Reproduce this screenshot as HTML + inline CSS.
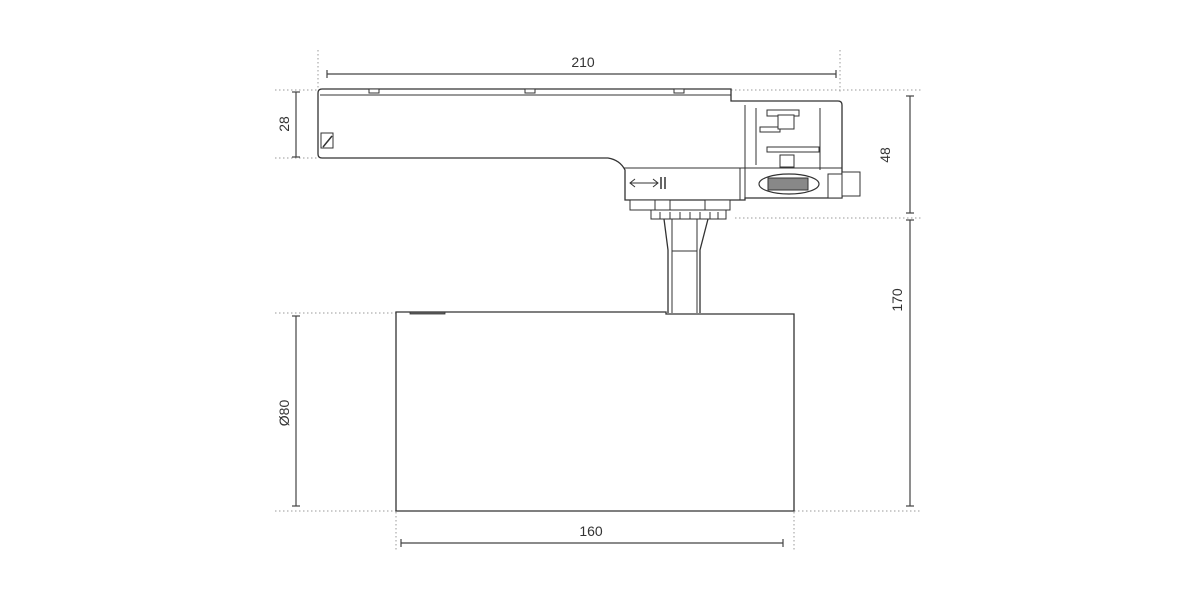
<!DOCTYPE html>
<html><head><meta charset="utf-8"><style>
html,body{margin:0;padding:0;background:#fff;}
svg{display:block;}
text{font-family:"Liberation Sans",sans-serif;font-size:14px;fill:#333;}
</style></head><body>
<svg width="1200" height="600" viewBox="0 0 1200 600" xmlns="http://www.w3.org/2000/svg">
<g stroke="#999" stroke-width="1" stroke-dasharray="1.5,2.5" fill="none">
<line x1="318" y1="50" x2="318" y2="90"/>
<line x1="840" y1="50" x2="840" y2="92"/>
<line x1="275" y1="90" x2="318" y2="90"/>
<line x1="275" y1="158" x2="318" y2="158"/>
<line x1="731" y1="90" x2="922" y2="90"/>
<line x1="735" y1="218" x2="922" y2="218"/>
<line x1="275" y1="313" x2="396" y2="313"/>
<line x1="275" y1="511" x2="396" y2="511"/>
<line x1="794" y1="511" x2="922" y2="511"/>
<line x1="396" y1="512" x2="396" y2="550"/>
<line x1="794" y1="512" x2="794" y2="550"/>
</g>
<g stroke="#444" stroke-width="1.2" fill="none">
<line x1="327" y1="74" x2="836" y2="74"/><line x1="327" y1="70" x2="327" y2="78"/><line x1="836" y1="70" x2="836" y2="78"/>
<line x1="296" y1="92" x2="296" y2="157"/><line x1="292" y1="92" x2="300" y2="92"/><line x1="292" y1="157" x2="300" y2="157"/>
<line x1="910" y1="96" x2="910" y2="213"/><line x1="906" y1="96" x2="914" y2="96"/><line x1="906" y1="213" x2="914" y2="213"/>
<line x1="910" y1="220" x2="910" y2="506"/><line x1="906" y1="220" x2="914" y2="220"/><line x1="906" y1="506" x2="914" y2="506"/>
<line x1="296" y1="316" x2="296" y2="506"/><line x1="292" y1="316" x2="300" y2="316"/><line x1="292" y1="506" x2="300" y2="506"/>
<line x1="401" y1="543" x2="783" y2="543"/><line x1="401" y1="539" x2="401" y2="547"/><line x1="783" y1="539" x2="783" y2="547"/>
</g>
<text x="583" y="67" text-anchor="middle">210</text>
<text x="591" y="536" text-anchor="middle">160</text>
<text transform="translate(289,124) rotate(-90)" text-anchor="middle">28</text>
<text transform="translate(890,155) rotate(-90)" text-anchor="middle">48</text>
<text transform="translate(902,300) rotate(-90)" text-anchor="middle">170</text>
<text transform="translate(289,413) rotate(-90)" text-anchor="middle">Ø80</text>
<g stroke="#333" stroke-width="1.3" fill="#fff">
<!-- top housing -->
<path d="M322,89 H731 V101 H838 Q842,101 842,105 V198 H745 V200 H625 V170 Q620,160 608,158 H322 Q318,158 318,154 V93 Q318,89 322,89 Z"/>
<line x1="320" y1="95" x2="731" y2="95" stroke-width="1"/>
<rect x="369" y="89" width="10" height="4" stroke-width="1"/>
<rect x="525" y="89" width="10" height="4" stroke-width="1"/>
<rect x="674" y="89" width="10" height="4" stroke-width="1"/>
<rect x="321" y="133" width="12" height="15" stroke-width="1"/>
<line x1="323" y1="147" x2="332" y2="136" stroke-width="1.5"/>
<!-- right connector detail -->
<line x1="745" y1="105" x2="745" y2="198" stroke-width="1"/>
<line x1="756" y1="108" x2="756" y2="165" stroke-width="1"/>
<line x1="820" y1="108" x2="820" y2="170" stroke-width="1"/>
<rect x="767" y="110" width="32" height="6" stroke-width="1"/>
<rect x="760" y="127" width="20" height="5" stroke-width="1"/>
<rect x="767" y="147" width="52" height="5" stroke-width="1"/>
<rect x="778" y="115" width="16" height="14" stroke-width="1"/>
<rect x="780" y="155" width="14" height="12" stroke-width="1"/>
<line x1="624" y1="168" x2="842" y2="168" stroke-width="1"/>
<line x1="740" y1="168" x2="740" y2="200" stroke-width="1"/>
<ellipse cx="789" cy="184" rx="30" ry="10" stroke-width="1.2"/>
<rect x="768" y="178" width="40" height="12" stroke-width="1" fill="#888"/>
<rect x="842" y="172" width="18" height="24" stroke-width="1"/>
<rect x="828" y="174" width="14" height="24" stroke-width="1"/>
<path d="M630,183 H658 M635,179 L630,183 L635,187 M653,179 L658,183 L653,187" stroke-width="1" fill="none"/>
<line x1="661" y1="177" x2="661" y2="189" stroke-width="1.5"/><line x1="665" y1="177" x2="665" y2="189" stroke-width="1.5"/>
<!-- lower clamps -->
<rect x="630" y="200" width="30" height="10" stroke-width="1"/>
<rect x="655" y="200" width="15" height="10" stroke-width="1"/>
<rect x="705" y="200" width="25" height="10" stroke-width="1"/>
<rect x="651" y="210" width="75" height="9" stroke-width="1"/>
<g stroke-width="1"><line x1="660" y1="212" x2="660" y2="219"/><line x1="670" y1="212" x2="670" y2="219"/><line x1="680" y1="212" x2="680" y2="219"/><line x1="690" y1="212" x2="690" y2="219"/><line x1="700" y1="212" x2="700" y2="219"/><line x1="710" y1="212" x2="710" y2="219"/><line x1="718" y1="212" x2="718" y2="219"/></g>
<!-- stem -->
<path d="M664,219 L668,250 V313 M708,219 L700,250 V313" fill="none"/>
<line x1="672" y1="219" x2="672" y2="313" stroke-width="1"/>
<line x1="697" y1="219" x2="697" y2="313" stroke-width="1"/>
<line x1="672" y1="251" x2="697" y2="251" stroke-width="1"/>
<!-- cylinder -->
<path d="M396,312 H666 V314 H794 V511 H396 Z"/>
<rect x="410" y="312" width="35" height="2" stroke-width="0.8" fill="#666"/>
</g>
</svg>
</body></html>
